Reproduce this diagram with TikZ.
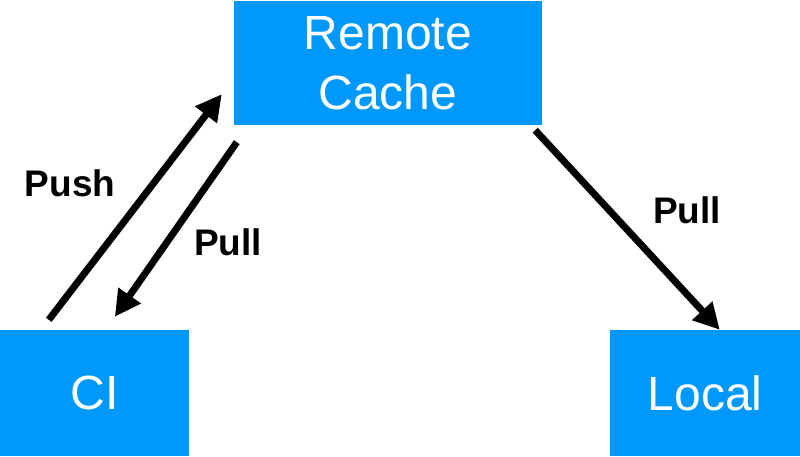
\documentclass[tikz,border=0pt]{standalone}
\usepackage{fontspec}
\setmainfont{Liberation Sans}
\usetikzlibrary{calc,arrows.meta}
\definecolor{colorBox}{RGB}{0,152,250}
\tikzset{
   every path/.style={>={Triangle[length=26pt,width=26pt]}},
   box/.style={rectangle,fill=colorBox,text=white,inner sep=0pt,
      font=\fontsize{48}{60}\selectfont,align=center},
   flow/.style={->,line width=7pt,color=black},
   lab/.style={font=\fontsize{37}{44}\selectfont\bfseries},
}
\begin{document}
\begin{tikzpicture}[x=1pt,y=-1pt]
        \useasboundingbox (0,0) rectangle (800,456);
        \node[box,minimum width=308pt,minimum height=124pt] (cache) at (388,63) {Remote\\Cache};
        \node[box,minimum width=189pt,minimum height=126pt] (ci)    at (94.5,393) {CI};
        \node[box,minimum width=190pt,minimum height=126pt] (local) at (705,393) {Local};

        % ends of the arrows
        \coordinate (pushs) at ($(ci.north west)+(49,-10)$);
        \coordinate (pushe) at ($(cache.south west)+(-12,-31)$);
        \coordinate (pulls) at ($(cache.south west)+(3,17)$);
        \coordinate (pulle) at ($(ci.north west)+(115,-13)$);
        \coordinate (locs)  at ($(cache.south east)+(-7,5)$);
        \coordinate (loce)  at ($(local.north west)+(110,0)$);

        \draw[flow] (pushs) -- (pushe);
        \draw[flow] (pulls) -- (pulle);
        \draw[flow] (locs) -- (loce);

        \node[lab] (push)  at (70,183)  {Push};
        \node[lab] (pulla) at (228,242) {Pull};
        \node[lab] (pullb) at (687,210) {Pull};
    \end{tikzpicture}
\end{document}
